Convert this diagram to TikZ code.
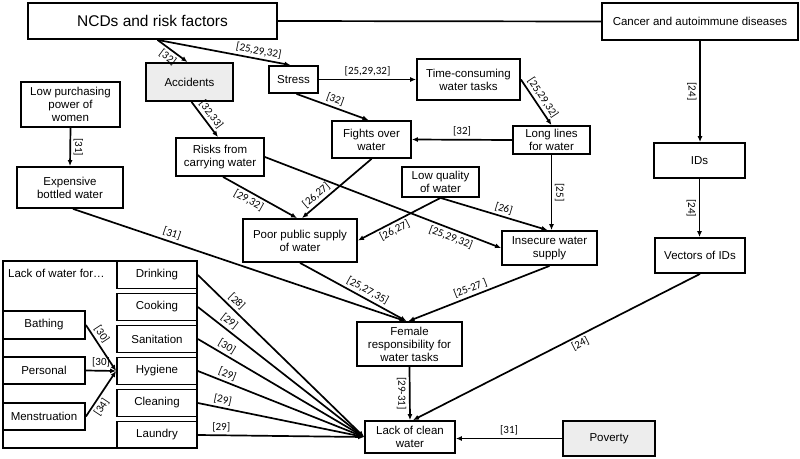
\documentclass[tikz,border=0pt]{standalone}
\usepackage{fontspec}
\setmainfont{Liberation Sans}
\newfontfamily\refnumfont{Carlito}
\usetikzlibrary{arrows.meta}

\begin{document}
\begin{tikzpicture}[x=1pt, y=-1pt, >=latex,
        box/.style={draw, line width=1.8pt, align=center, inner sep=1pt, font=\fontsize{11.5}{13}\selectfont},
        greybox/.style={box, fill=black!7},
        link/.style={-{Latex[length=6pt,width=5pt]}, line width=1.7pt},
        refnum/.style={font=\refnumfont\fontsize{11}{12}\selectfont, inner sep=2.5pt}]
        \useasboundingbox (0,0) rectangle (800,458);

        \node[box, minimum width=249pt, minimum height=36pt, font=\fontsize{15.5}{18}\selectfont] (ncd) at (152.5,21) {NCDs and risk factors};
        \node[box, minimum width=196pt, minimum height=37pt] (cancer) at (700,21.5) {Cancer and autoimmune diseases};
        \node[greybox, minimum width=87pt, minimum height=38pt] (acc) at (189.5,82) {Accidents};
        \node[box, minimum width=49pt, minimum height=27pt] (stress) at (293.5,79.5) {Stress};
        \node[box, minimum width=99pt, minimum height=45pt] (lowpp) at (70.5,104.5) {Low purchasing\\power of\\women};
        \node[box, minimum width=106pt, minimum height=41pt] (bottled) at (70,187.5) {Expensive\\bottled water};
        \node[box, minimum width=88pt, minimum height=38pt] (risks) at (220,157) {Risks from\\carrying water};
        \node[box, minimum width=79pt, minimum height=37pt] (fights) at (371.5,139.5) {Fights over\\water};
        \node[box, minimum width=103pt, minimum height=41pt] (timetask) at (468.5,79.5) {Time-consuming\\water tasks};
        \node[box, minimum width=77pt, minimum height=28pt] (lines) at (551.5,140) {Long lines\\for water};
        \node[box, minimum width=91pt, minimum height=35pt] (ids) at (699.5,160.5) {IDs};
        \node[box, minimum width=77pt, minimum height=30pt] (lowq) at (440.5,182) {Low quality\\of water};
        \node[box, minimum width=114pt, minimum height=43pt] (poor) at (300,240.5) {Poor public supply\\of water};
        \node[box, minimum width=95pt, minimum height=34pt] (insecure) at (549.5,248) {Insecure water\\supply};
        \node[box, minimum width=90pt, minimum height=35pt] (vectors) at (700,255.5) {Vectors of IDs};
        \node[box, minimum width=105pt, minimum height=44pt] (female) at (409.5,344) {Female\\responsibility for\\water tasks};
        \node[box, minimum width=90pt, minimum height=32pt] (clean) at (410,437) {Lack of clean\\water};
        \node[greybox, minimum width=92pt, minimum height=35pt] (poverty) at (609,438.5) {Poverty};

        \node[box, minimum width=194pt, minimum height=187pt] (lackbox) at (100,354.5) {};
        \node[anchor=west, inner sep=0pt, font=\fontsize{11.5}{13}\selectfont] (lackfor) at (8,273) {Lack of water for…};
        \node[box, minimum width=80pt, minimum height=27pt] (drink) at (157,275) {Drinking};
        \node[box, minimum width=80pt, minimum height=27pt] (cook) at (157,307) {Cooking};
        \node[box, minimum width=80pt, minimum height=27pt] (sanit) at (157,339) {Sanitation};
        \node[box, minimum width=80pt, minimum height=27pt] (hyg) at (157,371) {Hygiene};
        \node[box, minimum width=80pt, minimum height=27pt] (cleaning) at (157,403) {Cleaning};
        \node[box, minimum width=80pt, minimum height=27pt] (laundry) at (157,435) {Laundry};
        \node[box, minimum width=82pt, minimum height=28pt] (bathing) at (44,325) {Bathing};
        \node[box, minimum width=82pt, minimum height=27pt] (personal) at (44,370.5) {Personal};
        \node[box, minimum width=82pt, minimum height=27pt] (menstr) at (44,416.5) {Menstruation};

        \draw[line width=1.7pt] (ncd.east) -- (cancer.west);
        \draw[link] ([xshift=5pt]ncd.south) -- ([xshift=-2pt]acc.north) node[midway, below, sloped, refnum] {[32]};
        \draw[link] ([xshift=5pt]ncd.south) -- ([xshift=-3pt]stress.north) node[pos=0.75, above, sloped, refnum] {[25,29,32]};
        \draw[link] (stress.east) -- (timetask.west) node[midway, above, refnum] {[25,29,32]};
        \draw[link] ([xshift=3pt]stress.south) -- ([xshift=-3pt]fights.north) node[midway, above, sloped, refnum] {[32]};
        \draw[link] (timetask.east) -- (lines.north) node[midway, above, sloped, refnum] {[25,29,32]};
        \draw[link] (lines.west) -- (fights.east) node[midway, above, refnum] {[32]};
        \draw[link] (lines.south) -- (lines.south |- insecure.north) node[midway, rotate=-90, anchor=south, refnum] {[25]};
        \draw[link] ([xshift=2pt]acc.south) -- ([xshift=-2pt]risks.north) node[midway, above, sloped, refnum] {[32,33]};
        \draw[link] (lowpp.south) -- (bottled.north) node[midway, rotate=-90, anchor=south, refnum] {[31]};
        \draw[link] ([xshift=3pt]risks.south) -- ([xshift=-3pt]poor.north) node[pos=0.4, below, sloped, refnum] {[29,32]};
        \draw[link] (fights.south) -- ([xshift=2pt]poor.north) node[pos=0.72, above, sloped, refnum] {[26,27]};
        \draw[link] (risks.east) -- (insecure.west) node[pos=0.8, below, sloped, refnum] {[25,29,32]};
        \draw[link] (lowq.south) -- (poor.east) node[pos=0.6, below, sloped, refnum] {[26,27]};
        \draw[link] (lowq.south) -- ([xshift=-2pt]insecure.north) node[pos=0.57, above, sloped, refnum] {[26]};
        \draw[link] (poor.south) -- ([xshift=-3pt]female.north) node[pos=0.6, above, sloped, refnum] {[25,27,35]};
        \draw[link] (insecure.south) -- ([xshift=-1pt]female.north) node[pos=0.54, above, sloped, refnum] {[25-27 ]};
        \draw[link] ([xshift=3pt]bottled.south) -- ([xshift=-4pt]female.north) node[pos=0.29, above, sloped, refnum] {[31]};
        \draw[link] (female.south) -- (clean.north) node[midway, rotate=-90, anchor=north, refnum] {[29-31]};
        \draw[link] (vectors.south) -- ([xshift=3pt]clean.north) node[pos=0.43, below, sloped, refnum] {[24]};
        \draw[link] (cancer.south) -- (ids.north -| cancer.south) node[midway, rotate=-90, anchor=north, refnum] {[24]};
        \draw[link] (ids.south) -- (vectors.north -| ids.south) node[midway, rotate=-90, anchor=north, refnum] {[24]};
        \draw[link] (poverty.west) -- (poverty.west -| clean.east) node[midway, above, refnum] {[31]};

        \draw[link] (bathing.east) -- (hyg.west) node[pos=0.3, above, sloped, refnum] {[30]};
        \draw[link] (personal.east) -- (hyg.west) node[midway, above, refnum] {[30]};
        \draw[link] (menstr.east) -- (hyg.west) node[pos=0.3, below, sloped, refnum] {[34]};
        \draw[link] (drink.east) -- (clean.west) node[pos=0.2, above, sloped, refnum] {[28]};
        \draw[link] (cook.east) -- (clean.west) node[pos=0.16, above, sloped, refnum] {[29]};
        \draw[link] (sanit.east) -- (clean.west) node[pos=0.15, above, sloped, refnum] {[30]};
        \draw[link] (hyg.east) -- (clean.west) node[pos=0.16, above, sloped, refnum] {[29]};
        \draw[link] (cleaning.east) -- (clean.west) node[pos=0.14, above, sloped, refnum] {[29]};
        \draw[link] (laundry.east) -- (clean.west) node[pos=0.14, above, sloped, refnum] {[29]};
    \end{tikzpicture}
\end{document}
